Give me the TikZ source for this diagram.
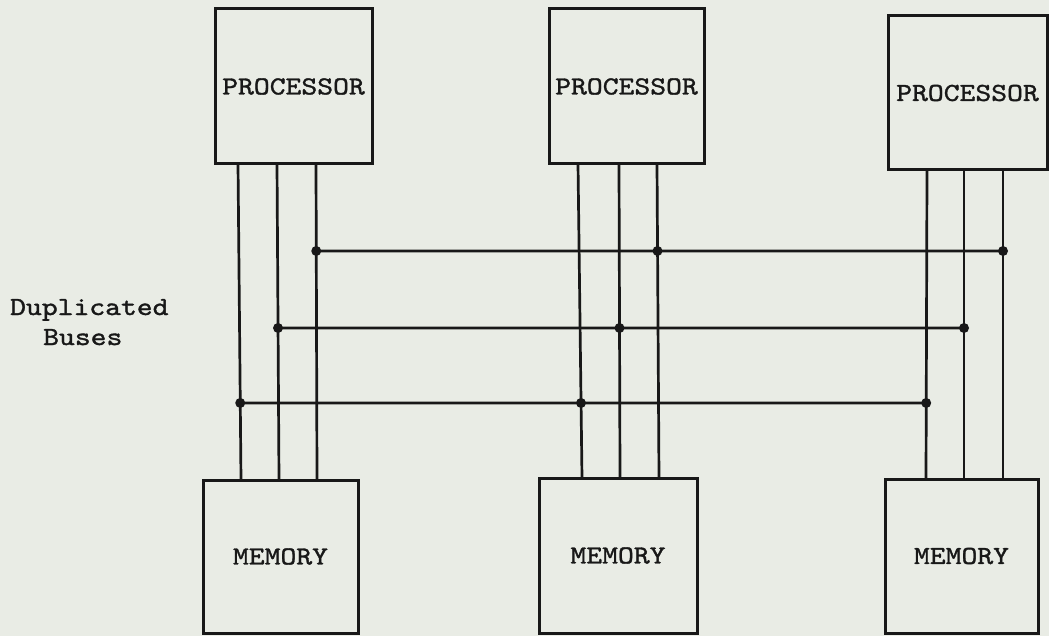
\documentclass[tikz,border=0pt]{standalone}
\usepackage{fontspec}
\usepackage{tikz}
\newfontfamily\typewriter{lmmono10-regular.otf}[FakeStretch=1.16, FakeBold=1.3]
\definecolor{paper}{RGB}{233,236,229}
\definecolor{ink}{RGB}{24,24,24}

\begin{document}
\begin{tikzpicture}[x=1pt, y=-1pt,
        unit/.style={draw=ink, line width=3pt, inner sep=0pt, text=ink,
                     font=\typewriter\fontsize{26}{30}\selectfont},
        note/.style={inner sep=0pt, text=ink, font=\typewriter\fontsize{26}{30}\selectfont},
        wire/.style={draw=ink, line width=2.7pt}]
        \fill[paper] (0,0) rectangle (1049,636);
        \useasboundingbox (0,0) rectangle (1049,636);
        % processors and memories
        \node[unit, minimum width=157pt, minimum height=155pt] (p1) at (293.5,86.5) {PROCESSOR};
        \node[unit, minimum width=155pt, minimum height=155pt] (p2) at (626.5,86.5) {PROCESSOR};
        \node[unit, minimum width=159pt, minimum height=154pt] (p3) at (967.5,93) {PROCESSOR};
        \node[unit, minimum width=155pt, minimum height=153pt] (m1) at (280.5,556.5) {MEMORY};
        \node[unit, minimum width=158pt, minimum height=155pt] (m2) at (618,555.5) {MEMORY};
        \node[unit, minimum width=153pt, minimum height=154pt] (m3) at (961.5,556) {MEMORY};
        % ports
        \coordinate (p1a) at (238,164); \coordinate (p1b) at (277,164); \coordinate (p1c) at (316,164);
        \coordinate (p2a) at (578,164); \coordinate (p2b) at (619,164); \coordinate (p2c) at (657,164);
        \coordinate (p3a) at (927,170); \coordinate (p3b) at (964,170); \coordinate (p3c) at (1003,170);
        \coordinate (m1a) at (241,480); \coordinate (m1b) at (279,480); \coordinate (m1c) at (317,480);
        \coordinate (m2a) at (582,478); \coordinate (m2b) at (620,478); \coordinate (m2c) at (659,478);
        \coordinate (m3a) at (926,479); \coordinate (m3b) at (964,479); \coordinate (m3c) at (1003,479);
        \draw[wire] (p1a)--(m1a); \draw[wire] (p1b)--(m1b); \draw[wire] (p1c)--(m1c);
        \draw[wire] (p2a)--(m2a); \draw[wire] (p2b)--(m2b); \draw[wire] (p2c)--(m2c);
        \draw[wire] (p3a)--(m3a); \draw[wire] (p3b)--(m3b); \draw[wire] (p3c)--(m3c);
        % buses
        \coordinate (wh) at (0,251); \coordinate (eh) at (1049,251);
        \coordinate (wm) at (0,328); \coordinate (em) at (1049,328);
        \coordinate (wl) at (0,403); \coordinate (el) at (1049,403);
        \coordinate (hi1) at (intersection of p1c--m1c and wh--eh);
        \coordinate (hi2) at (intersection of p2c--m2c and wh--eh);
        \coordinate (hi3) at (intersection of p3c--m3c and wh--eh);
        \coordinate (mid1) at (intersection of p1b--m1b and wm--em);
        \coordinate (mid2) at (intersection of p2b--m2b and wm--em);
        \coordinate (mid3) at (intersection of p3b--m3b and wm--em);
        \coordinate (lo1) at (intersection of p1a--m1a and wl--el);
        \coordinate (lo2) at (intersection of p2a--m2a and wl--el);
        \coordinate (lo3) at (intersection of p3a--m3a and wl--el);
        \draw[wire] (hi1)--(hi3); \draw[wire] (mid1)--(mid3); \draw[wire] (lo1)--(lo3);
        \fill[ink] (hi1) circle (5pt) (hi2) circle (5pt) (hi3) circle (5pt);
        \fill[ink] (mid1) circle (5pt) (mid2) circle (5pt) (mid3) circle (5pt);
        \fill[ink] (lo1) circle (5pt) (lo2) circle (5pt) (lo3) circle (5pt);
        \node[note, anchor=base west] (dup) at (10,315) {Duplicated};
        \node[note, anchor=base west] (buses) at (43,345) {Buses};
\end{tikzpicture}
\end{document}
